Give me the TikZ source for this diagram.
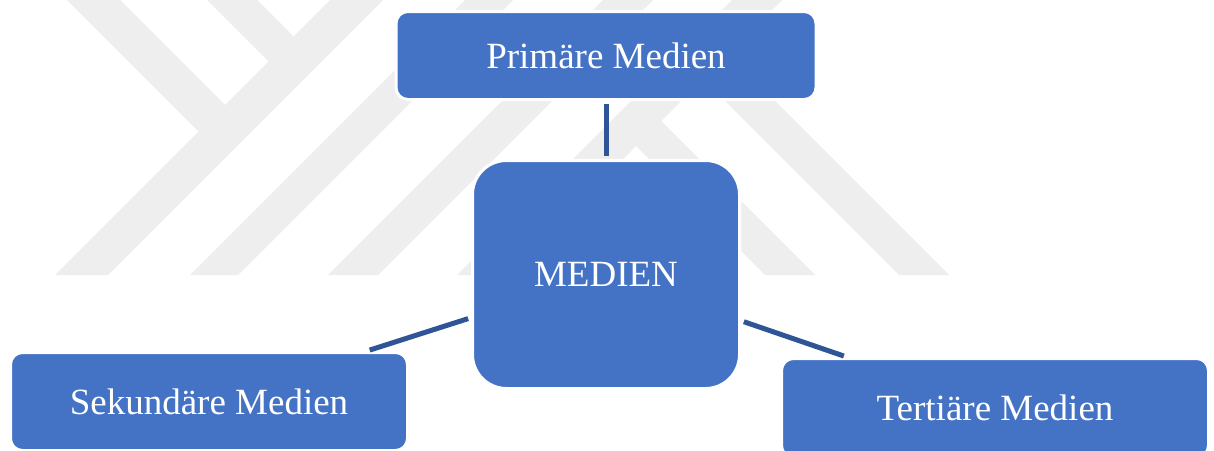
\documentclass[tikz,border=0pt]{standalone}
\usepackage{fontspec}
\setmainfont{Liberation Serif}
\usetikzlibrary{arrows,shapes}
\definecolor{boxblue}{HTML}{4472C4}
\definecolor{lineblue}{HTML}{2F5597}
\definecolor{logogray}{HTML}{EEEEEE}

\begin{document}
\begin{tikzpicture}[x=1pt,y=-1pt,node distance=219pt]
  \tikzstyle{medium}=[rectangle,rounded corners=12pt,fill=boxblue,draw=white,line width=3pt,text=white,font=\fontsize{37}{44}\selectfont,inner sep=0pt]
  \tikzstyle{logo}=[fill=logogray,draw=none]
  \tikzstyle{link}=[draw=lineblue,line width=5pt,shorten >=3pt,shorten <=3pt]

  \useasboundingbox (0,0) rectangle (1214,450);
  \fill[white] (0,0) rectangle (1214,450);

  % watermark stripes
  \fill[logo] (67,0) -- (120,0) -- (225,105) -- (198.5,131.5) -- cycle;
  \fill[logo] (207,0) -- (257,0) -- (293.5,36.5) -- (268.5,61.5) -- cycle;
  \fill[logo] (55,275) -- (108,275) -- (383,0) -- (330,0) -- cycle;
  \fill[logo] (190,275) -- (238,275) -- (513,0) -- (465,0) -- cycle;
  \fill[logo] (328,275) -- (378,275) -- (653,0) -- (603,0) -- cycle;
  \fill[logo] (457,275) -- (507,275) -- (782,0) -- (732,0) -- cycle;
  \fill[logo] (678,54) -- (728,54) -- (949,275) -- (899,275) -- cycle;
  \fill[logo] (611,121) -- (661,121) -- (815,275) -- (765,275) -- cycle;

  \node[medium,minimum width=267pt,minimum height=228pt,rounded corners=34pt] (M) at (606,274.5) {MEDIEN};
  \node[medium,minimum width=420pt,minimum height=88pt] (P) [above of=M] {Primäre Medien};
  \node[medium,minimum width=397pt,minimum height=98pt] (S) at (209,401.5) {Sekundäre Medien};
  \node[medium,minimum width=427pt,minimum height=99pt] (T) at (995,408) {Tertiäre Medien};

  \path[link] (M) edge (P)
                  edge (S)
                  edge (T);
\end{tikzpicture}
\end{document}
